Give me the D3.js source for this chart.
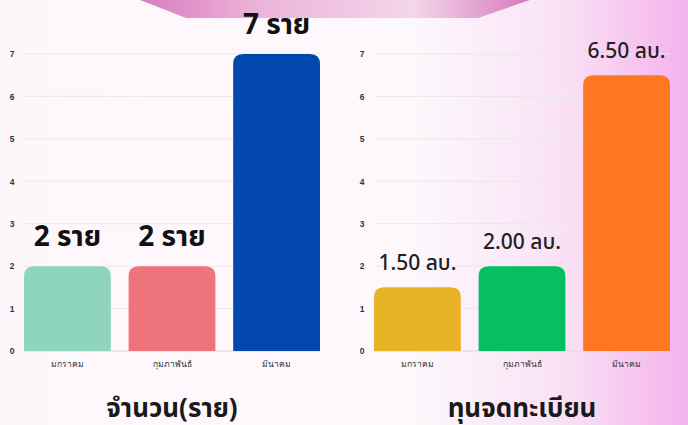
<!DOCTYPE html>
<meta charset="utf-8">
<style>
body { margin: 0; }
svg { display: block; font-family: "Noto Sans", "Noto Sans Thai", Roboto, sans-serif; }
.tick text { font-size: 8.5px; fill: #333; }
</style>
<body>
<script src="https://d3js.org/d3.v7.min.js"></script>
<script>

// Data
var months = ["มกราคม", "กุมภาพันธ์", "มีนาคม"];
var countValues = [2, 2, 7];
var countLabels = ["2 ราย", "2 ราย", "7 ราย"];
var capitalValues = [1.5, 2.0, 6.5];
var capitalLabels = ["1.50 ลบ.", "2.00 ลบ.", "6.50 ลบ."];
var yTicks = [0, 1, 2, 3, 4, 5, 6, 7];
var countColors = ["#8fd4bd", "#ee737c", "#0247ab"];
var capitalColors = ["#e8b326", "#05bf62", "#ff7722"];

var W = 688, H = 425;

var svg = d3.select("body").append("svg")
    .attr("width", W)
    .attr("height", H);

// background gradient
var defs = svg.append("defs");
var bg = defs.append("linearGradient").attr("id", "bg")
    .attr("x1", 0).attr("x2", 1).attr("y1", 0).attr("y2", 0);
bg.append("stop").attr("offset", 0).attr("stop-color", "#fdf7fc");
bg.append("stop").attr("offset", 0.6).attr("stop-color", "#fdf8fc");
bg.append("stop").attr("offset", 0.82).attr("stop-color", "#f9e1f5");
bg.append("stop").attr("offset", 1).attr("stop-color", "#f4b2ec");
svg.append("rect").attr("width", W).attr("height", H).attr("fill", "url(#bg)");

// pink banner at the top
var ban = defs.append("linearGradient").attr("id", "ban")
    .attr("x1", 0).attr("x2", 1).attr("y1", 0).attr("y2", 0);
ban.append("stop").attr("offset", 0).attr("stop-color", "#d97cbf");
ban.append("stop").attr("offset", 0.3).attr("stop-color", "#ebb3d9");
ban.append("stop").attr("offset", 0.7).attr("stop-color", "#f4d6eb");
ban.append("stop").attr("offset", 1).attr("stop-color", "#d77abd");
svg.append("path")
    .attr("d", "M140,0 L186,18 L478,18 L530,0 Z")
    .attr("fill", "url(#ban)");

var y = d3.scaleLinear().domain([0, 7]).range([351, 54]);

function drawChart(x0, x1, values, labels, colors, title, labelStyle) {
  var g = svg.append("g");
  var x = d3.scaleBand().domain(months).range([x0, x1])
      .paddingInner(0.17).paddingOuter(0);

  // gridlines
  g.append("g")
    .selectAll("line").data(yTicks).join("line")
      .attr("x1", x0).attr("x2", x1)
      .attr("y1", function(d) { return y(d); })
      .attr("y2", function(d) { return y(d); })
      .attr("stroke", function(d) { return d === 0 ? "#d8d8d8" : "#e8e8e8"; })
      .attr("stroke-width", 1);

  // y axis labels
  var ya = g.append("g")
      .attr("transform", "translate(" + (x0 - 12) + ",0)")
      .call(d3.axisLeft(y).tickValues(yTicks).tickFormat(d3.format("d"))
        .tickSize(0).tickPadding(0));
  ya.select(".domain").remove();
  ya.selectAll("text").attr("text-anchor", "middle").attr("font-weight", 600);

  // bars with rounded tops
  var r = 10;
  g.selectAll("path.bar").data(values).join("path")
      .attr("class", "bar")
      .attr("fill", function(d, i) { return colors[i]; })
      .attr("d", function(d, i) {
        var bx = x(months[i]), bw = x.bandwidth(), top = y(d), bot = y(0);
        return "M" + bx + "," + bot +
               "V" + (top + r) +
               "Q" + bx + "," + top + " " + (bx + r) + "," + top +
               "H" + (bx + bw - r) +
               "Q" + (bx + bw) + "," + top + " " + (bx + bw) + "," + (top + r) +
               "V" + bot + "Z";
      });

  // value labels
  g.selectAll("text.val").data(values).join("text")
      .attr("class", "val")
      .attr("x", function(d, i) { return x(months[i]) + x.bandwidth() / 2; })
      .attr("y", function(d) { return y(d) - labelStyle.offset; })
      .attr("text-anchor", "middle")
      .attr("font-size", labelStyle.size)
      .attr("font-weight", labelStyle.weight)
      .attr("fill", labelStyle.color)
      .text(function(d, i) { return labels[i]; });

  // x axis labels
  var xa = g.append("g")
      .attr("transform", "translate(0," + y(0) + ")")
      .call(d3.axisBottom(x).tickSize(0).tickPadding(10));
  xa.select(".domain").remove();

  // title
  g.append("text")
      .attr("x", (x0 + x1) / 2)
      .attr("y", 417)
      .attr("text-anchor", "middle")
      .attr("font-size", "26px")
      .attr("font-weight", "bold")
      .attr("fill", "#1a1a1a")
      .text(title);
}

drawChart(24, 320, countValues, countLabels, countColors, "จำนวน(ราย)",
  {offset: 20, size: "28px", weight: "bold", color: "#111"});
drawChart(374, 670, capitalValues, capitalLabels, capitalColors, "ทุนจดทะเบียน",
  {offset: 17, size: "21px", weight: 500, color: "#222"});

</script>
</body>
